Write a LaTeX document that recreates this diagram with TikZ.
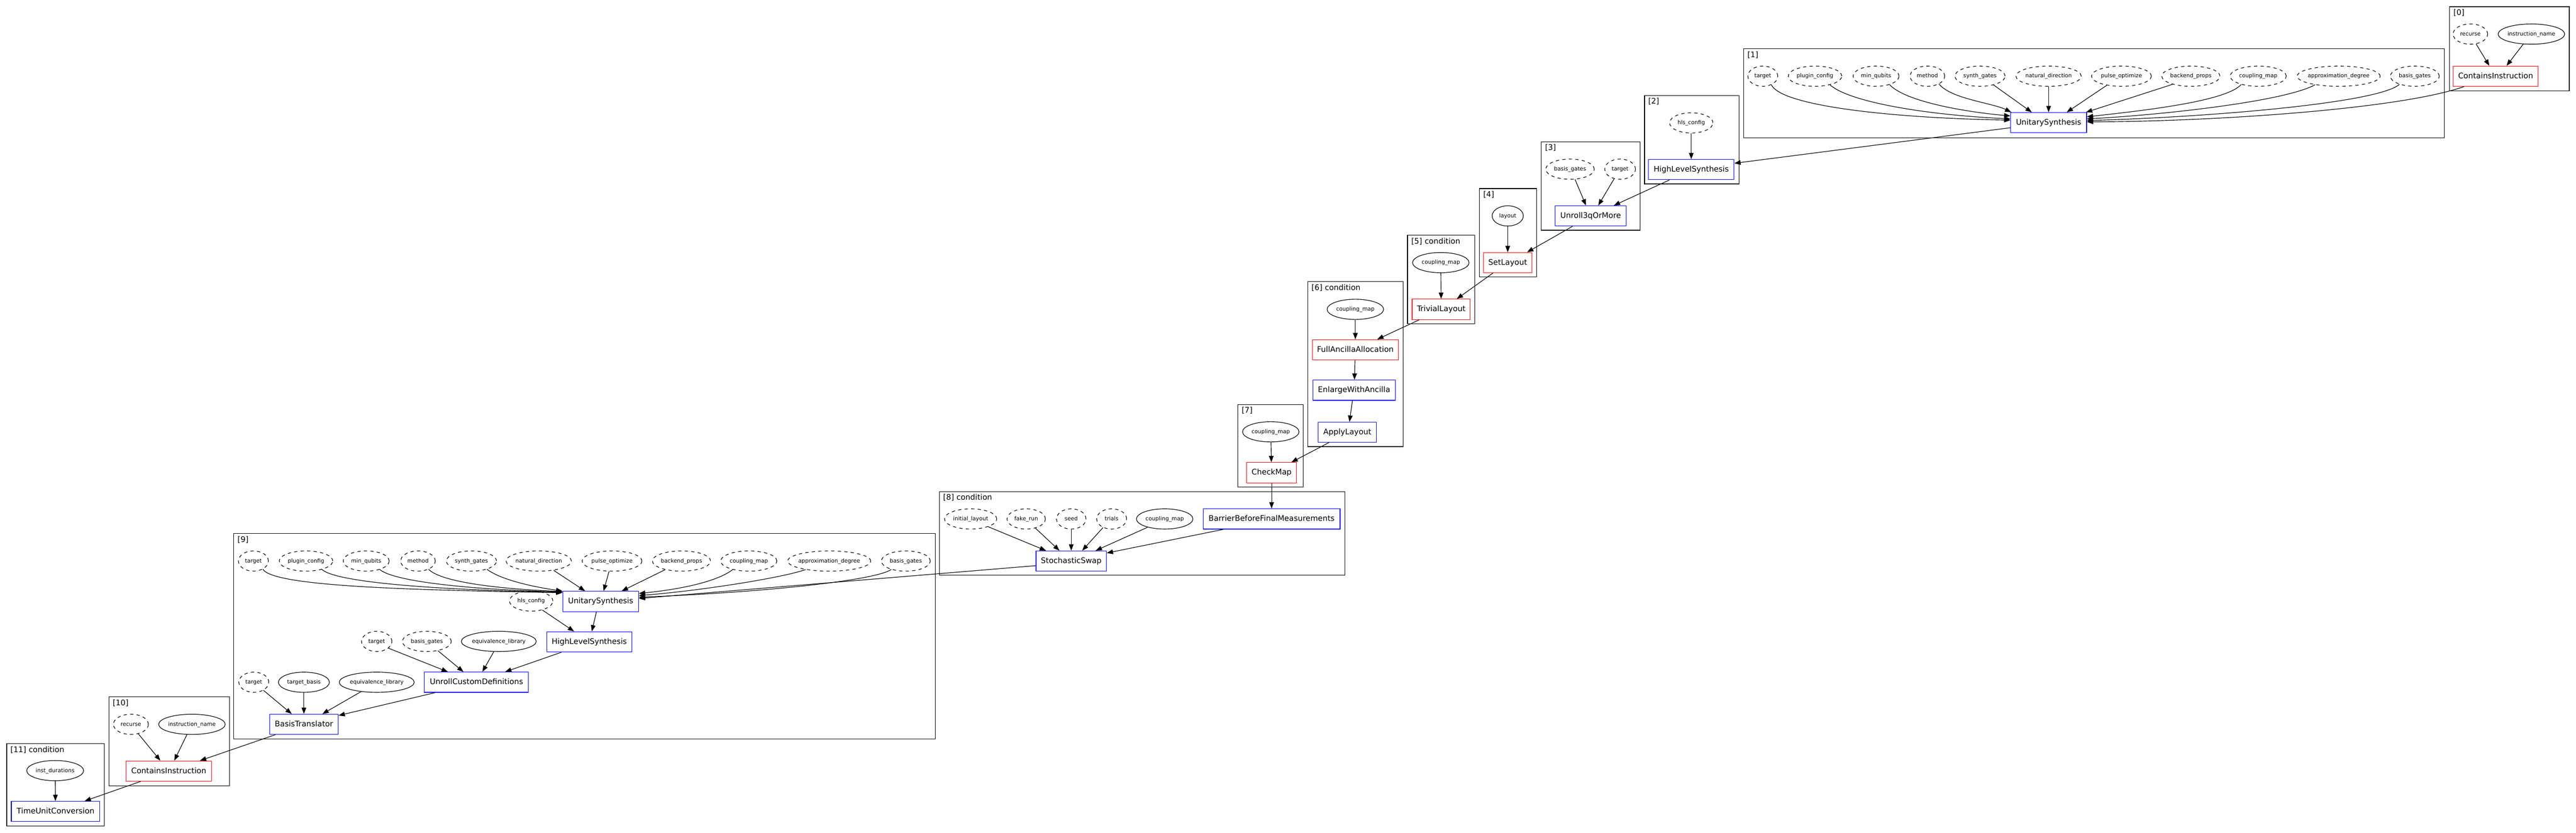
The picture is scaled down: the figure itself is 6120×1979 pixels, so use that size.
\documentclass[tikz,border=0pt]{standalone}
\usepackage{fontspec}
\setmainfont{DejaVu Sans}
\usetikzlibrary{arrows.meta,shapes.geometric,calc}
\newcommand\boxfnt{\fontsize{5.2pt}{6pt}\selectfont}
\newcommand\parfnt{\fontsize{3.71pt}{4.5pt}\selectfont}
\newcommand\zw[1]{\makebox[0pt]{#1}}
\tikzset{
 conn/.style={draw, line width=0.4pt, -{Triangle[length=0.15cm,width=0.11cm]}},
 gbox/.style={rectangle, draw, line width=0.4pt, minimum height=0.48cm, inner sep=0pt, font=\boxfnt, text height=4.06pt, text depth=1.04pt},
 rbox/.style={gbox, draw=red},
 bbox/.style={gbox, draw=blue},
 par/.style={ellipse, draw, line width=0.4pt, minimum height=0.48cm, inner sep=0pt, font=\parfnt, text height=2.89pt, text depth=0.74pt},
 dpar/.style={par, dash pattern=on 2.2pt off 2.2pt},
 clus/.style={rectangle, draw, line width=0.4pt, inner sep=0pt},
 clab/.style={anchor=base west, inner sep=0pt, font=\boxfnt},
}
\begin{document}
\begin{tikzpicture}[x=0.01cm, y=-0.01cm]
\useasboundingbox (0,0) rectangle (6120,1979);
% ---------- clusters ----------
\node[clus, minimum width=2.84cm, minimum height=2.00cm] (c0) at (5962,116) {};
\node[clus, minimum width=16.64cm, minimum height=2.11cm] (c1) at (4975,221.5) {};
\node[clus, minimum width=2.24cm, minimum height=2.10cm] (c2) at (4019,332) {};
\node[clus, minimum width=2.34cm, minimum height=2.10cm] (c3) at (3779,442) {};
\node[clus, minimum width=1.35cm, minimum height=2.10cm] (c4) at (3582.5,553) {};
\node[clus, minimum width=1.60cm, minimum height=2.10cm] (c5) at (3424,664) {};
\node[clus, minimum width=2.26cm, minimum height=3.92cm] (c6) at (3220,865) {};
\node[clus, minimum width=1.55cm, minimum height=1.96cm] (c7) at (3018.5,1059) {};
\node[clus, minimum width=9.63cm, minimum height=1.99cm] (c8) at (2713.5,1267.5) {};
\node[clus, minimum width=16.66cm, minimum height=4.88cm] (c9) at (1389,1512) {};
\node[clus, minimum width=2.86cm, minimum height=2.11cm] (c10) at (402,1761.5) {};
\node[clus, minimum width=2.32cm, minimum height=1.96cm] (c11) at (132,1865) {};
\node[clab] (c0l) at ($(c0.north west)+(9,21)$) {[0]};
\node[clab] (c1l) at ($(c1.north west)+(9,21)$) {[1]};
\node[clab] (c2l) at ($(c2.north west)+(9,21)$) {[2]};
\node[clab] (c3l) at ($(c3.north west)+(9,21)$) {[3]};
\node[clab] (c4l) at ($(c4.north west)+(9,21)$) {[4]};
\node[clab] (c5l) at ($(c5.north west)+(9,21)$) {[5] condition};
\node[clab] (c6l) at ($(c6.north west)+(9,21)$) {[6] condition};
\node[clab] (c7l) at ($(c7.north west)+(9,21)$) {[7]};
\node[clab] (c8l) at ($(c8.north west)+(9,21)$) {[8] condition};
\node[clab] (c9l) at ($(c9.north west)+(9,21)$) {[9]};
\node[clab] (c10l) at ($(c10.north west)+(9,21)$) {[10]};
\node[clab] (c11l) at ($(c11.north west)+(9,21)$) {[11] condition};
% ---------- [0] ----------
\node[dpar, minimum width=0.82cm] (rec0) at (5869,81) {\zw{recurse}};
\node[par, minimum width=1.58cm] (inm0) at (6014,81) {\zw{instruction\_name}};
\node[rbox, minimum width=2.02cm] (ci0) at (5929,181) {ContainsInstruction};
% ---------- [1] ----------
\node[dpar, minimum width=0.71cm] (targ1) at (4188,181) {\zw{target}};
\node[dpar, minimum width=1.27cm] (plug1) at (4312,181) {\zw{plugin\_config}};
\node[dpar, minimum width=1.09cm] (minq1) at (4457,181) {\zw{min\_qubits}};
\node[dpar, minimum width=0.82cm] (meth1) at (4579,181) {\zw{method}};
\node[dpar, minimum width=1.19cm] (synth1) at (4704,181) {\zw{synth\_gates}};
\node[dpar, minimum width=1.55cm] (natd1) at (4867,181) {\zw{natural\_direction}};
\node[dpar, minimum width=1.42cm] (pulse1) at (5040,181) {\zw{pulse\_optimize}};
\node[dpar, minimum width=1.38cm] (back1) at (5205,181) {\zw{backend\_props}};
\node[dpar, minimum width=1.33cm] (coup1) at (5365,181) {\zw{coupling\_map}};
\node[dpar, minimum width=1.97cm] (appr1) at (5556,181) {\zw{approximation\_degree}};
\node[dpar, minimum width=1.16cm] (basis1) at (5737,181) {\zw{basis\_gates}};
\node[bbox, minimum width=1.80cm] (us1) at (4867,291.5) {UnitarySynthesis};
% ---------- [2]..[5] ----------
\node[dpar, minimum width=1.03cm] (hls2) at (4018,292) {\zw{hls\_config}};
\node[bbox, minimum width=2.03cm] (hlsyn2) at (4018,403) {HighLevelSynthesis};
\node[dpar, minimum width=1.15cm] (bas3) at (3730,402) {\zw{basis\_gates}};
\node[dpar, minimum width=0.73cm] (tgt3) at (3849,402) {\zw{target}};
\node[bbox, minimum width=1.69cm] (u3) at (3779,513) {Unroll3qOrMore};
\node[par, minimum width=0.74cm] (lay4) at (3582,513) {\zw{layout}};
\node[rbox, minimum width=1.15cm] (setl) at (3582,624) {SetLayout};
\node[par, minimum width=1.34cm] (coup5) at (3423,624) {\zw{coupling\_map}};
\node[rbox, minimum width=1.38cm] (triv) at (3424,735) {TrivialLayout};
% ---------- [6],[7] ----------
\node[par, minimum width=1.34cm] (coup6) at (3220,735) {\zw{coupling\_map}};
\node[rbox, minimum width=2.04cm] (faa) at (3220,831) {FullAncillaAllocation};
\node[bbox, minimum width=1.96cm] (ewa) at (3217,927) {EnlargeWithAncilla};
\node[bbox, minimum width=1.38cm] (al) at (3201,1027) {ApplyLayout};
\node[par, minimum width=1.34cm] (coup7) at (3019,1026) {\zw{coupling\_map}};
\node[rbox, minimum width=1.19cm] (cm) at (3021,1123) {CheckMap};
% ---------- [8] ----------
\node[dpar, minimum width=1.24cm] (initl) at (2306,1233) {\zw{initial\_layout}};
\node[dpar, minimum width=0.91cm] (fake) at (2438,1233) {\zw{fake\_run}};
\node[dpar, minimum width=0.70cm] (seed) at (2545,1233) {\zw{seed}};
\node[dpar, minimum width=0.71cm] (trials) at (2641,1233) {\zw{trials}};
\node[par, minimum width=1.34cm] (coup8) at (2767,1233) {\zw{coupling\_map}};
\node[bbox, minimum width=3.25cm] (bbfm) at (3021,1233) {BarrierBeforeFinalMeasurements};
\node[bbox, minimum width=1.67cm] (ss) at (2545,1333) {StochasticSwap};
% ---------- [9] ----------
\node[dpar, minimum width=0.71cm] (targ9) at (602,1333) {\zw{target}};
\node[dpar, minimum width=1.27cm] (plug9) at (727,1333) {\zw{plugin\_config}};
\node[dpar, minimum width=1.09cm] (minq9) at (870,1333) {\zw{min\_qubits}};
\node[dpar, minimum width=0.82cm] (meth9) at (993,1333) {\zw{method}};
\node[dpar, minimum width=1.19cm] (synth9) at (1120,1333) {\zw{synth\_gates}};
\node[dpar, minimum width=1.55cm] (natd9) at (1280,1333) {\zw{natural\_direction}};
\node[dpar, minimum width=1.42cm] (pulse9) at (1454,1333) {\zw{pulse\_optimize}};
\node[dpar, minimum width=1.38cm] (back9) at (1619,1333) {\zw{backend\_props}};
\node[dpar, minimum width=1.33cm] (coup9) at (1779,1333) {\zw{coupling\_map}};
\node[dpar, minimum width=1.97cm] (appr9) at (1970,1333) {\zw{approximation\_degree}};
\node[dpar, minimum width=1.16cm] (basis9) at (2152,1333) {\zw{basis\_gates}};
\node[bbox, minimum width=1.80cm] (us9) at (1427,1429) {UnitarySynthesis};
\node[dpar, minimum width=1.03cm] (hls9) at (1262,1428) {\zw{hls\_config}};
\node[bbox, minimum width=2.02cm] (hlsyn9) at (1400,1525) {HighLevelSynthesis};
\node[dpar, minimum width=0.72cm] (tgt9b) at (895,1524) {\zw{target}};
\node[dpar, minimum width=1.16cm] (bas9b) at (1014,1524) {\zw{basis\_gates}};
\node[par, minimum width=1.78cm] (eq9a) at (1185,1524) {\zw{equivalence\_library}};
\node[bbox, minimum width=2.47cm] (ucd) at (1132,1621) {UnrollCustomDefinitions};
\node[dpar, minimum width=0.71cm] (tgt9c) at (603,1621) {\zw{target}};
\node[par, minimum width=1.21cm] (tb9) at (722,1621) {\zw{target\_basis}};
\node[par, minimum width=1.78cm] (eq9b) at (895,1621) {\zw{equivalence\_library}};
\node[bbox, minimum width=1.63cm] (bt) at (722,1721) {BasisTranslator};
% ---------- [10],[11] ----------
\node[dpar, minimum width=0.83cm] (rec10) at (311,1721) {\zw{recurse}};
\node[par, minimum width=1.58cm] (inm10) at (456,1721) {\zw{instruction\_name}};
\node[rbox, minimum width=2.03cm] (ci10) at (401,1832) {ContainsInstruction};
\node[par, minimum width=1.35cm] (idur) at (131,1831) {\zw{inst\_durations}};
\node[bbox, minimum width=2.10cm] (tuc) at (132,1928) {TimeUnitConversion};
% ---------- edges ----------
\draw[conn] (rec0.-60) -- ($(ci0.north)+(-15,0)$);
\draw[conn] (inm0.-129) -- ($(ci0.north)+(26,0)$);
\draw[conn] ($(ci0.south)+(-75,0)$) .. controls (5700,260) and (5250,289) .. ($(us1.east)+(0,-2)$);
\draw[conn] (targ1.-45) .. controls (4230,250) and (4480,280) .. ($(us1.west)+(0,-6)$);
\draw[conn] (plug1.-30) .. controls (4390,240) and (4560,272) .. ($(us1.west)+(0,-9)$);
\draw[conn] (minq1.-32) .. controls (4525,240) and (4660,265) .. ($(us1.west)+(0,-16)$);
\draw[conn] (meth1.-34) .. controls (4635,235) and (4735,245) .. ($(us1.north west)+(2,0)$);
\draw[conn] (synth1.-33) -- ($(us1.north)+(-40,0)$);
\draw[conn] (natd1.south) -- (us1.north);
\draw[conn] (pulse1.-148) -- ($(us1.north)+(43,0)$);
\draw[conn] (back1.-156) -- ($(us1.north east)+(-2,0)$);
\draw[conn] (coup1.-154) .. controls (5290,240) and (5100,262) .. ($(us1.east)+(0,-14)$);
\draw[conn] (appr1.-160) .. controls (5430,240) and (5150,272) .. ($(us1.east)+(0,-9)$);
\draw[conn] (basis1.-152) .. controls (5650,245) and (5250,278) .. ($(us1.east)+(0,-5)$);
\draw[conn] (hls2) -- (hlsyn2);
\draw[conn] ($(us1.west)+(0,12)$) -- ($(hlsyn2.east)+(0,-15)$);
\draw[conn] ($(hlsyn2.south)+(-52,0)$) -- ($(u3.north)+(55,0)$);
\draw[conn] (bas3.-64) -- ($(u3.north)+(-11,0)$);
\draw[conn] (tgt3.-122) -- ($(u3.north)+(18,0)$);
\draw[conn] (lay4) -- (setl);
\draw[conn] ($(u3.south)+(-43,0)$) -- ($(setl.north)+(46,0)$);
\draw[conn] (coup5) -- (triv);
\draw[conn] ($(setl.south)+(-35,0)$) -- ($(triv.north)+(37,0)$);
\draw[conn] (coup6) -- (faa);
\draw[conn] ($(triv.south)+(-52,0)$) -- ($(faa.north)+(52,0)$);
\draw[conn] (faa) -- (ewa);
\draw[conn] ($(ewa.south)+(-4,0)$) -- ($(al.north)+(5,0)$);
\draw[conn] ($(al.south)+(-44,0)$) -- ($(cm.north)+(47,0)$);
\draw[conn] (coup7) -- (cm);
\draw[conn] (cm) -- (bbfm);
\draw[conn] (initl.-24) -- ($(ss.north)+(-60,0)$);
\draw[conn] (fake.-45) -- ($(ss.north)+(-28,0)$);
\draw[conn] (seed) -- (ss);
\draw[conn] (trials.-135) -- ($(ss.north)+(26,0)$);
\draw[conn] (coup8.-154) -- ($(ss.north)+(58,0)$);
\draw[conn] ($(bbfm.south)+(-114,0)$) -- ($(ss.east)+(0,-19)$);
\draw[conn] ($(ss.west)+(0,11)$) -- ($(us9.east)+(0,-7)$);
\draw[conn] (targ9.-41) .. controls (650,1395) and (1000,1402) .. ($(us9.north west)+(0,4)$);
\draw[conn] (plug9.-28) .. controls (800,1385) and (1050,1402) .. ($(us9.north west)+(0,3)$);
\draw[conn] (minq9.-32) .. controls (940,1385) and (1150,1402) .. ($(us9.north west)+(0,2)$);
\draw[conn] (meth9.-38) .. controls (1050,1385) and (1200,1400) .. ($(us9.north west)+(0,1)$);
\draw[conn] (synth9.-28) .. controls (1190,1378) and (1270,1395) .. (us9.north west);
\draw[conn] (natd9.-32) -- ($(us9.north)+(-37,0)$);
\draw[conn] (pulse9.-106) -- ($(us9.north)+(7,0)$);
\draw[conn] (back9.-152) -- ($(us9.north)+(50,0)$);
\draw[conn] (coup9.-152) .. controls (1700,1385) and (1600,1402) .. ($(us9.east)+(0,-19)$);
\draw[conn] (appr9.-160) .. controls (1850,1375) and (1650,1405) .. ($(us9.east)+(0,-14)$);
\draw[conn] (basis9.-150) .. controls (2080,1380) and (1800,1408) .. ($(us9.east)+(0,-10)$);
\draw[conn] ($(us9.south)+(-10,0)$) -- ($(hlsyn9.north)+(6,0)$);
\draw[conn] (hls9.-39) -- ($(hlsyn9.north)+(-36,0)$);
\draw[conn] ($(hlsyn9.south)+(-66,0)$) -- ($(ucd.north)+(68,0)$);
\draw[conn] (tgt9b.-30) -- ($(ucd.north)+(-68,0)$);
\draw[conn] (bas9b.-40) -- ($(ucd.north)+(-31,0)$);
\draw[conn] (eq9a.-116) -- ($(ucd.north)+(14,0)$);
\draw[conn] (tgt9c.-40) -- ($(bt.north)+(-29,0)$);
\draw[conn] (tb9) -- (bt);
\draw[conn] (eq9b.-149) -- ($(bt.north)+(44,0)$);
\draw[conn] ($(ucd.south)+(-98,0)$) -- ($(bt.east)+(0,-21)$);
\draw[conn] ($(bt.south)+(-68,0)$) -- ($(ci10.north)+(74,0)$);
\draw[conn] (rec10.-52) -- ($(ci10.north)+(-20,0)$);
\draw[conn] (inm10.-116) -- ($(ci10.north)+(13,0)$);
\draw[conn] ($(ci10.south)+(-67,0)$) -- ($(tuc.north)+(69,0)$);
\draw[conn] (idur) -- (tuc);
\end{tikzpicture}
\end{document}
